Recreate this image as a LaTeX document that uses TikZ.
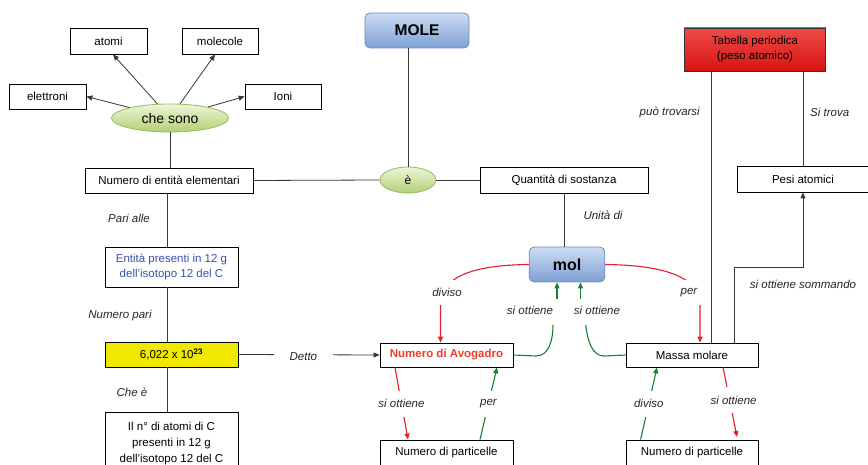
\documentclass[tikz,border=0pt]{standalone}
\usepackage{fontspec}
\setmainfont{Liberation Sans}
\usetikzlibrary{arrows.meta,shapes.geometric}
\definecolor{linegray}{RGB}{55,55,55}
\definecolor{moletop}{RGB}{205,220,243}
\definecolor{molebot}{RGB}{125,160,212}
\definecolor{moleborder}{RGB}{110,140,190}
\definecolor{tabtop}{RGB}{238,75,70}
\definecolor{tabbot}{RGB}{215,20,20}
\definecolor{elltop}{RGB}{238,245,215}
\definecolor{ellbot}{RGB}{178,208,118}
\definecolor{ellborder}{RGB}{150,188,95}
\definecolor{yel}{RGB}{240,232,0}
\definecolor{bluetext}{RGB}{60,80,170}
\definecolor{redline}{RGB}{232,30,40}
\definecolor{greenline}{RGB}{20,130,50}
\definecolor{avored}{RGB}{240,60,40}
\begin{document}
\begin{tikzpicture}[x=1pt,y=-1pt,
  every node/.style={font=\fontsize{11.5}{14}\selectfont},
  box/.style={draw=black,line width=0.8pt,fill=white,minimum height=25pt,inner sep=2pt},
  bluebox/.style={draw=moleborder,line width=0.8pt,rounded corners=5pt,top color=moletop,bottom color=molebot,inner sep=2pt},
  greenell/.style={ellipse,draw=ellborder,line width=0.8pt,top color=elltop,bottom color=ellbot,inner sep=0pt},
  lbl/.style={font=\fontsize{11.5}{14}\selectfont\itshape,text=black!85,inner sep=1pt},
  conn/.style={draw=linegray,line width=0.8pt},
  arr/.style={-{Triangle[length=6pt,width=5pt]}},
  redc/.style={draw=redline,line width=1.1pt},
  greenc/.style={draw=greenline,line width=1.1pt}
]
\useasboundingbox (0,0) rectangle (868,465);
\clip (0,0) rectangle (868,465);
\fill[white] (0,0) rectangle (868,465);

% top-left cluster
\node[box,minimum width=77pt,minimum height=26pt] (atomi) at (108.5,41) {atomi};
\node[box,minimum width=76pt,minimum height=26pt] (molecole) at (220,41) {molecole};
\node[box,minimum width=77pt] (elettroni) at (47.5,96.5) {elettroni};
\node[box,minimum width=76pt] (ioni) at (283,96.5) {Ioni};
\node[greenell,minimum width=117pt,minimum height=28pt,font=\fontsize{14}{16}\selectfont] (chesono) at (170,118) {che sono};

% left column
\node[box,minimum width=168pt] (numero) at (169,180.5) {Numero di entità elementari};
\node[box,minimum width=133pt,minimum height=40pt,align=center,text=bluetext,font=\fontsize{11.5}{15}\selectfont] (entita) at (171.5,267) {Entità presenti in 12 g\\dell’isotopo 12 del C};
\node[box,fill=yel,minimum width=133pt] (avonum) at (171.5,354.5) {6,022 x 10\textsuperscript{\bfseries 23}};
\node[box,minimum width=133pt,anchor=north,align=center,minimum height=62pt,inner sep=3pt,font=\fontsize{11.5}{16}\selectfont] (ilno) at (171.5,412) {Il n° di atomi di C\\presenti in 12 g\\dell’isotopo 12 del C};

% centre
\node[bluebox,minimum width=104pt,minimum height=35pt,font=\fontsize{15.5}{18}\selectfont\bfseries] (mole) at (417,30.5) {MOLE};
\node[greenell,minimum width=56pt,minimum height=26pt,font=\fontsize{12}{14}\selectfont] (e) at (408,180) {è};
\node[box,minimum width=168pt,minimum height=26pt] (quant) at (564,180) {Quantità di sostanza};
\node[bluebox,minimum width=75.5pt,minimum height=35pt,font=\fontsize{16}{18}\selectfont\bfseries] (mol) at (567,264.5) {mol};

% right
\node[draw=black!80,line width=0.8pt,top color=tabtop,bottom color=tabbot,minimum width=141.5pt,minimum height=43pt,align=center,inner sep=2pt,font=\fontsize{11.5}{15}\selectfont] (tab) at (755,49.5) {Tabella periodica\\(peso atomico)};
\node[box,minimum width=132pt,minimum height=26pt] (pesi) at (803,179) {Pesi atomici};

% lower row
\node[box,minimum width=133pt,minimum height=24pt,text=avored,font=\fontsize{11.5}{14}\selectfont\bfseries] (avo) at (446.5,355) {Numero di Avogadro};
\node[box,minimum width=132pt,minimum height=24pt] (massa) at (692,355) {Massa molare};
\node[box,minimum width=133pt,minimum height=25pt] (part1) at (446.5,452.5) {Numero di particelle};
\node[box,minimum width=132pt,minimum height=25pt] (part2) at (692,452.5) {Numero di particelle};

% connectors top-left
\draw[conn,arr] (chesono) -- (elettroni.east);
\draw[conn,arr] (chesono) -- ([xshift=4.5pt]atomi.south);
\draw[conn,arr] (chesono) -- ([xshift=-5pt]molecole.south);
\draw[conn,arr] (chesono) -- (ioni.west);
\draw[conn] (chesono.south) -- (chesono.south |- numero.north);

% left column
\draw[conn] ([xshift=-2pt]numero.south) -- ([xshift=-2pt]numero.south |- entita.north);
\node[lbl] (pari) at (129,218) {Pari alle};
\draw[conn] ([xshift=-4.5pt]entita.south) -- ([xshift=-4.5pt]entita.south |- avonum.north);
\node[lbl] (numpari) at (120,316) {Numero pari};
\draw[conn] ([xshift=-4.5pt]avonum.south) -- ([xshift=-4.5pt]avonum.south |- ilno.north);
\node[lbl] (chee) at (132,392) {Che è};

% detto
\draw[conn,arr] (avonum.east) -- (avo.west)
  node[lbl,fill=white,pos=0.46,inner xsep=16pt,inner ysep=3pt,yshift=-2pt] (detto) {Detto};

% centre lines
\draw[conn] (numero.east) -- (e.west);
\draw[conn] (408,0 |- mole.south) -- (e.north);
\draw[conn] (e.east) -- (quant.west);
\draw[conn] (quant.south) -- (quant.south |- mol.north);
\node[lbl] (unita) at (603,215) {Unità di};

% tabella lines
\coordinate (tabL) at (711.6,71);
\draw[conn] (tabL |- tab.south) -- (tabL |- massa.north);
\node[lbl,anchor=east] (puo) at (701,112) {può trovarsi};
\draw[conn] (pesi.north) -- (pesi.north |- tab.south);
\node[lbl,anchor=west] (sitrova) at (809,112) {Si trova};

% si ottiene sommando
\coordinate (somA) at (734,267);
\draw[conn,arr] (somA |- massa.north) -- (somA) -- (somA -| pesi.south) -- (pesi.south);
\node[lbl] (somm) at (803,284) {si ottiene sommando};

% red curves from mol
\coordinate (redL) at (440.5,305);
\draw[redc,arr] (mol.west) .. controls (485,265) and (440.5,272) .. (redL) -- (redL |- avo.north);
\node[lbl,fill=white,minimum width=34pt,minimum height=25pt] (divisoA) at (447,292.5) {diviso};
\coordinate (redR) at (700,305);
\draw[redc,arr] (mol.east) .. controls (650,265) and (700,272) .. (redR) -- (redR |- massa.north);
\node[lbl,fill=white,minimum width=32pt,minimum height=25pt] (perA) at (689,292.5) {per};

% green from avo / massa to mol
\coordinate (gA1) at (536,356);
\coordinate (gA2) at (553,325);
\coordinate (gA3) at (557,299);
\draw[greenc] (avo.east) -- (gA1) .. controls (549,356) and (553,340) .. (gA2);
\draw[greenc,arr] (gA3) -- (gA3 |- mol.south);
\node[lbl] (siA) at (530,310) {si ottiene};
\coordinate (gB1) at (585.7,325);
\coordinate (gB3) at (580.5,299);
\draw[greenc,arr] (gB3) -- (gB3 |- mol.south);
\draw[greenc] (gB1) .. controls (588,342) and (592,356) .. (604.5,356) -- (massa.west);
\node[lbl] (siB) at (597,310) {si ottiene};

% below avo
\draw[redc,arr] (395,0 |- avo.south) -- (408,0 |- part1.north)
  node[lbl,fill=white,pos=0.5,minimum height=26pt] (siC) {si ottiene};
\draw[greenc,arr] (480,0 |- part1.north) -- (497,0 |- avo.south)
  node[lbl,fill=white,pos=0.5,minimum height=26pt] (perB) {per};

% below massa
\draw[greenc,arr] (640.6,0 |- part2.north) -- (657,0 |- massa.south)
  node[lbl,fill=white,pos=0.5,minimum height=26pt] (divisoB) {diviso};
\coordinate (rD) at (737,437);
\draw[redc,arr] (723,0 |- massa.south) -- (rD)
  node[lbl,fill=white,pos=0.47,minimum height=26pt,xshift=4pt] (siD) {si ottiene};
\end{tikzpicture}
\end{document}
